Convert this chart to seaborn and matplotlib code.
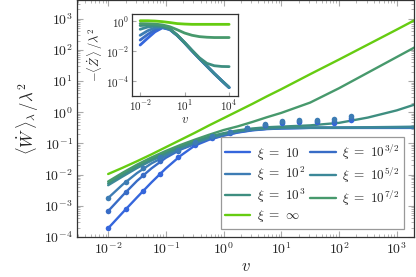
import numpy as np
import pandas as pd
import matplotlib
matplotlib.use("Agg")
import matplotlib.pyplot as plt
import seaborn as sns
from matplotlib.ticker import LogLocator, NullFormatter

# ---------------- data (log10 values) ----------------
labels = [r"$\xi\ =\ 10$", r"$\xi\ =\ 10^{3/2}$", r"$\xi\ =\ 10^{2}$", r"$\xi\ =\ 10^{5/2}$",
          r"$\xi\ =\ 10^{3}$", r"$\xi\ =\ 10^{7/2}$", r"$\xi\ =\ \infty$"]
colors = ["#3566dc", "#386cc6", "#3d7cb4", "#3c8898", "#3e8e80", "#47996c", "#66cc11"]

main_logv = [-2, -1.75, -1.5, -1.25, -1, -0.75, -0.5, -0.25, 0, 0.25, 0.5, 0.75, 1, 1.5, 2, 2.5, 3, 3.4]
main_logW_xi10   = [-3.72, -3.22, -2.73, -2.25, -1.80, -1.40, -1.07, -0.88, -0.75, -0.65, -0.58, -0.54, -0.52, -0.50, -0.50, -0.50, -0.50, -0.50]
main_logW_xi15   = [-3.17, -2.67, -2.20, -1.80, -1.46, -1.20, -1.02, -0.86, -0.74, -0.64, -0.57, -0.53, -0.51, -0.50, -0.50, -0.50, -0.50, -0.50]
main_logW_xi20   = [-2.75, -2.32, -1.95, -1.64, -1.40, -1.18, -1.00, -0.84, -0.72, -0.62, -0.56, -0.53, -0.51, -0.50, -0.50, -0.50, -0.50, -0.50]
main_logW_xi25   = [-2.34, -2.06, -1.79, -1.55, -1.34, -1.14, -0.97, -0.82, -0.70, -0.61, -0.55, -0.52, -0.50, -0.49, -0.49, -0.48, -0.47, -0.46]
main_logW_xi30   = [-2.28, -2.00, -1.73, -1.50, -1.29, -1.10, -0.93, -0.78, -0.67, -0.58, -0.52, -0.48, -0.46, -0.42, -0.34, -0.17, 0.06, 0.30]
main_logW_xi35   = [-2.22, -1.94, -1.68, -1.45, -1.24, -1.05, -0.88, -0.72, -0.57, -0.45, -0.31, -0.16, -0.02, 0.31, 0.77, 1.27, 1.77, 2.17]
main_logW_xiinf  = [-1.98, -1.78, -1.57, -1.35, -1.12, -0.89, -0.66, -0.42, -0.19, 0.04, 0.27, 0.51, 0.74, 1.22, 1.69, 2.17, 2.65, 3.04]

dots_v = [0.01, 0.02, 0.04, 0.08, 0.16, 0.32, 0.64, 1.28, 2.56, 5.12, 10.24, 20.48, 40.96, 81.92, 163.84]
dots_logW_xi10 = [-3.72, -3.11, -2.54, -1.97, -1.45, -1.06, -0.81, -0.66, -0.52, -0.42, -0.34, -0.31, -0.31, -0.33, -0.25]
dots_logW_xi15 = [-3.17, -2.57, -2.01, -1.55, -1.24, -0.98, -0.78, -0.64, -0.50, -0.40, -0.32, -0.28, -0.28, -0.27, -0.19]
dots_logW_xi20 = [-2.75, -2.23, -1.80, -1.45, -1.20, -0.96, -0.77, -0.63, -0.49, -0.37, -0.29, -0.25, -0.25, -0.21, -0.13]

inset_logv = [-2, -1.5, -1, -0.5, 0, 0.5, 1, 1.5, 2, 2.5, 3, 3.5, 4]
inset_logZ_xi10  = [-1.60, -1.15, -0.72, -0.45, -0.57, -0.96, -1.46, -1.99, -2.51, -3.01, -3.51, -3.98, -4.44]
inset_logZ_xi15  = [-1.27, -0.90, -0.58, -0.42, -0.56, -0.96, -1.46, -1.99, -2.51, -3.01, -3.51, -3.98, -4.44]
inset_logZ_xi20  = [-0.95, -0.65, -0.45, -0.40, -0.55, -0.95, -1.45, -1.98, -2.50, -3.00, -3.50, -3.97, -4.43]
inset_logZ_xi25  = [-0.55, -0.40, -0.34, -0.36, -0.53, -0.95, -1.45, -1.98, -2.50, -3.00, -3.50, -3.97, -4.42]
inset_logZ_xi30  = [-0.30, -0.27, -0.28, -0.34, -0.52, -0.93, -1.43, -1.95, -2.45, -2.82, -2.98, -3.03, -3.04]
inset_logZ_xi35  = [-0.17, -0.18, -0.20, -0.26, -0.38, -0.58, -0.80, -0.95, -1.04, -1.08, -1.10, -1.10, -1.10]
inset_logZ_xiinf = [0.02, 0.02, 0.00, -0.04, -0.10, -0.17, -0.20, -0.22, -0.22, -0.22, -0.22, -0.22, -0.22]

main_series = [main_logW_xi10, main_logW_xi15, main_logW_xi20, main_logW_xi25,
               main_logW_xi30, main_logW_xi35, main_logW_xiinf]
inset_series = [inset_logZ_xi10, inset_logZ_xi15, inset_logZ_xi20, inset_logZ_xi25,
                inset_logZ_xi30, inset_logZ_xi35, inset_logZ_xiinf]
dot_series = [dots_logW_xi10, dots_logW_xi15, dots_logW_xi20]

# ---------------- style ----------------
sns.set_style("ticks")
plt.rcParams["mathtext.fontset"] = "cm"
plt.rcParams["font.family"] = ["DejaVu Serif"]

fig = plt.figure(figsize=(4.16, 2.77), dpi=100)
ax = fig.add_axes([77 / 416, 40 / 277, 337 / 416, 237 / 277])

for lab, col, s in zip(labels, colors, main_series):
    df = pd.DataFrame({"v": 10.0 ** np.array(main_logv), "W": 10.0 ** np.array(s)})
    sns.lineplot(data=df, x="v", y="W", ax=ax, color=col, lw=1.7, label=lab,
                 sort=False, estimator=None)

for col, s in zip(colors[:3], dot_series):
    df = pd.DataFrame({"v": dots_v, "W": 10.0 ** np.array(s)})
    sns.scatterplot(data=df, x="v", y="W", ax=ax, color=col, s=16, linewidth=0,
                    legend=False, zorder=5)

ax.set_xscale("log")
ax.set_yscale("log")
ax.set_xlim(10 ** -2.54, 10 ** 3.3)
ax.set_ylim(1e-4, 10 ** 3.6)
ax.set_xticks([10.0 ** k for k in range(-2, 4)])
ax.set_xticklabels([rf"$10^{{{k}}}$" for k in range(-2, 4)])
ax.set_yticks([10.0 ** k for k in range(-4, 4)])
ax.set_yticklabels([rf"$10^{{{k}}}$" for k in range(-4, 4)])
for a in (ax.xaxis, ax.yaxis):
    a.set_minor_locator(LogLocator(base=10, subs=np.arange(2, 10), numticks=50))
    a.set_minor_formatter(NullFormatter())
ax.tick_params(which="both", direction="in", top=True, right=True, color="#aaaaaa",
               labelsize=10, pad=3)
ax.tick_params(which="major", length=4, width=0.8)
ax.tick_params(which="minor", length=2, width=0.6)
for sp in ax.spines.values():
    sp.set_color("#333333")
    sp.set_linewidth(0.9)
ax.set_xlabel(r"$v$", fontsize=12, labelpad=1)
ax.set_ylabel(r"$\langle \dot{W}\,\rangle_\lambda\,/\lambda^2$", fontsize=12, labelpad=2)

handles, labs = ax.get_legend_handles_labels()
order = [0, 2, 4, 6, 1, 3, 5]
leg = ax.legend([handles[i] for i in order], [labs[i] for i in order],
                ncol=2, loc="lower right", bbox_to_anchor=(0.971, 0.034),
                borderaxespad=0, fontsize=9.5, handlelength=1.9, handletextpad=0.5,
                columnspacing=0.4, labelspacing=0.25, borderpad=0.35,
                frameon=True, fancybox=False, edgecolor="#999999", framealpha=1)
leg.get_frame().set_linewidth(0.9)

# ---------------- inset ----------------
ins = fig.add_axes([132 / 416, 1 - 96 / 277, 106 / 416, 82 / 277])
for col, s in zip(colors, inset_series):
    df = pd.DataFrame({"v": 10.0 ** np.array(inset_logv), "Z": 10.0 ** np.array(s)})
    sns.lineplot(data=df, x="v", y="Z", ax=ins, color=col, lw=2.0, legend=False,
                 sort=False, estimator=None)
ins.set_xscale("log")
ins.set_yscale("log")
ins.set_xlim(10 ** -2.55, 10 ** 4.6)
ins.set_ylim(1e-5, 10 ** 0.47)
ins.set_xticks([1e-2, 1e1, 1e4])
ins.set_xticklabels([r"$10^{-2}$", r"$10^{1}$", r"$10^{4}$"])
ins.set_yticks([1e0, 1e-2, 1e-4])
ins.set_yticklabels([r"$10^{0}$", r"$10^{-2}$", r"$10^{-4}$"])
ins.xaxis.set_minor_locator(plt.NullLocator())
ins.yaxis.set_minor_locator(plt.NullLocator())
ins.tick_params(which="both", direction="in", color="#aaaaaa", labelsize=8, pad=2, length=3)
for sp in ins.spines.values():
    sp.set_color("#333333")
    sp.set_linewidth(0.9)
ins.set_xlabel(r"$v$", fontsize=9, labelpad=0)
ins.set_ylabel(r"$-\langle \dot{Z}\,\rangle\,/\lambda^2$", fontsize=9, labelpad=1)

fig.savefig("out.png", dpi=100)
